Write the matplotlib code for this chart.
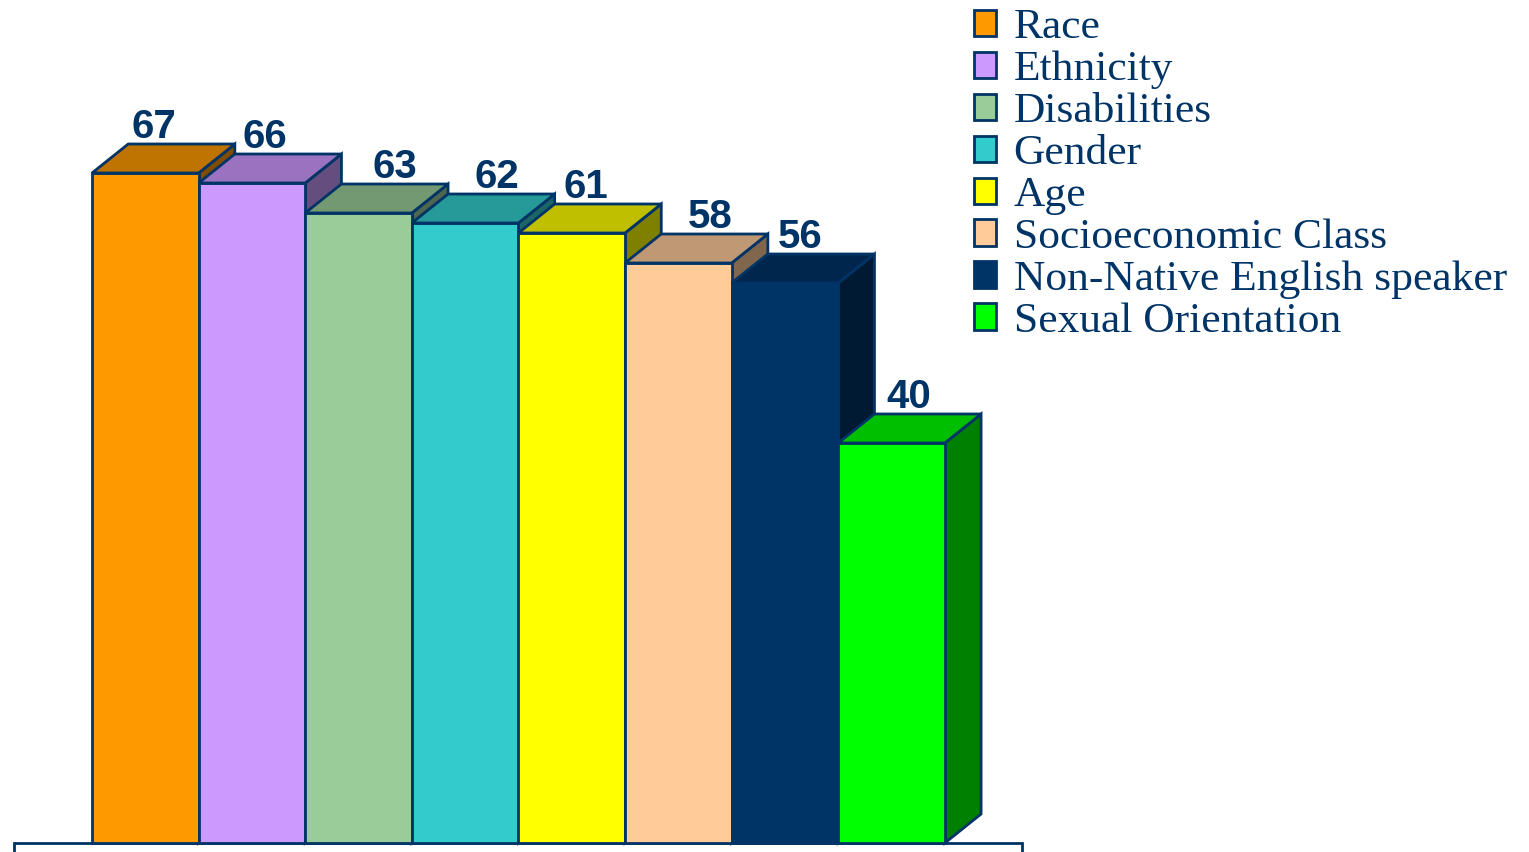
import numpy as np
from matplotlib import pyplot as plt
from matplotlib.patches import Polygon, Patch
from matplotlib.colors import to_rgb

categories = ['Race', 'Ethnicity', 'Disabilities', 'Gender', 'Age',
              'Socioeconomic Class', 'Non-Native English speaker', 'Sexual Orientation']
values = [67, 66, 63, 62, 61, 58, 56, 40]
colors = ['#FF9900', '#CC99FF', '#99CC99', '#33CCCC', '#FFFF00',
          '#FFCC99', '#003366', '#00FF00']

# label nudges (in bar widths) so the numbers sit on the top faces like the original
label_shift = [0.08, 0.12, 0.34, 0.30, 0.13, 0.30, 0.14, 0.16]

navy = '#003366'
depth_x, depth_y = 0.34, 2.9   # 3d offset: bar widths / value units


def shade(c, f):
    return tuple(v * f for v in to_rgb(c))


fig = plt.figure(figsize=(15.29, 8.52), dpi=100)
ax = fig.add_axes([0, 0, 1, 1])
ax.set_xlim(-0.863, 13.48)
ax.set_ylim(-0.9, 84.3)
ax.axis('off')

# floor edge
ax.plot([-0.73, -0.73, 8.72, 8.72], [-2, 0, 0, -2], color=navy, lw=2, zorder=1,
        solid_joinstyle='miter')

for i, (v, c) in enumerate(zip(values, colors)):
    x0, x1 = i, i + 1
    z = 2 + i * 0.1
    front = [(x0, 0), (x1, 0), (x1, v), (x0, v)]
    top = [(x0, v), (x1, v), (x1 + depth_x, v + depth_y), (x0 + depth_x, v + depth_y)]
    side = [(x1, 0), (x1 + depth_x, depth_y), (x1 + depth_x, v + depth_y), (x1, v)]
    for pts, f in [(side, 0.5), (front, 1.0), (top, 0.75)]:
        ax.add_patch(Polygon(pts, closed=True, facecolor=shade(c, f), edgecolor=navy,
                             lw=2, joinstyle='miter', zorder=z))
    ax.text(i + 0.5 + label_shift[i], v + depth_y + 0.6, str(v), ha='center', va='baseline',
            fontsize=29, fontweight='bold', color=navy, family='Liberation Sans', zorder=1.5)

handles = [Patch(facecolor=c, edgecolor=navy, lw=2) for c in colors]
leg = ax.legend(handles, categories, loc='upper left', bbox_to_anchor=(965 / 1529, 1.0),
                frameon=False, borderpad=0.2, borderaxespad=0, handlelength=0.52,
                handleheight=0.56, handletextpad=0.4, labelspacing=0.08,
                prop={'family': 'Liberation Serif', 'size': 31.3})
for t in leg.get_texts():
    t.set_color(navy)

fig.savefig('out.png', dpi=100)
